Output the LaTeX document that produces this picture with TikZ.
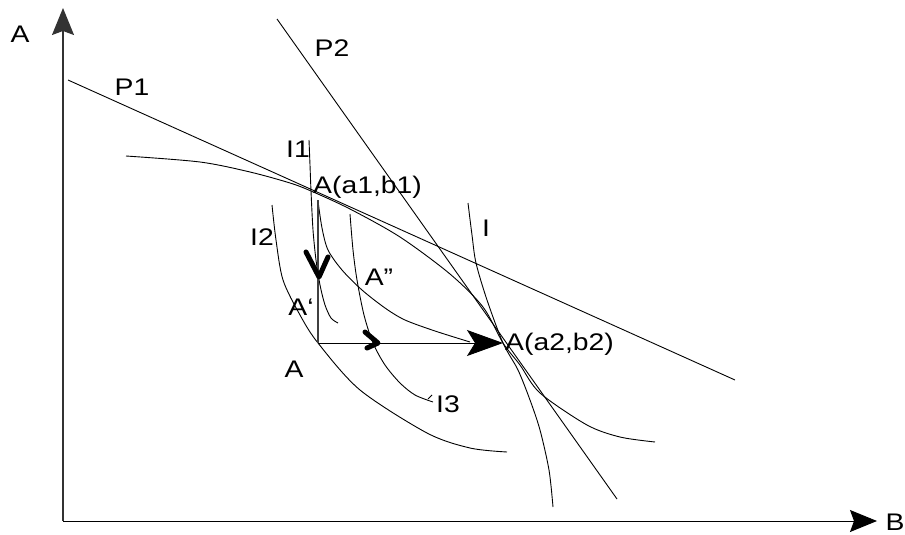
\documentclass[tikz,border=0pt]{standalone}
\usepackage{fontspec}
\setmainfont{Liberation Sans}[FakeStretch=1.18]
\usetikzlibrary{arrows.meta}
\begin{document}
\begin{tikzpicture}[x=1pt,y=-1pt,
  lbl/.style={font=\fontsize{24}{28}\selectfont, inner sep=0pt},
  thin line/.style={line width=0.9pt},
  axis/.style={line width=1.4pt, draw=black!80, -{Stealth[length=27pt,width=22pt,inset=4pt]}},
  stroke mark/.style={line width=5pt, line cap=round, line join=round},
  bigarrow/.style={-{Stealth[length=36pt,width=26pt,inset=8pt]}}]
\useasboundingbox (0,0) rectangle (905,535);
% key points
\coordinate (O) at (63,521);
\coordinate (Ytop) at (63,8);
\coordinate (Xend) at (877,521);
\coordinate (A1) at (311,191);
\coordinate (A2) at (503,343);
\coordinate (Afoot) at (318,343);
\coordinate (Vtop) at (318,200);
\coordinate (P1s) at (68,80);
\coordinate (P1e) at (735,380);
\coordinate (P2s) at (277,19);
\coordinate (P2e) at (617,499);
% axes
\draw[axis] (O) -- (Ytop);
\draw[axis, draw=black, line width=1pt] (O) -- (Xend);
% budget lines
\draw[thin line] (P1s) -- (P1e);
\draw[thin line] (P2s) -- (P2e);
% indifference curve through A1 and A2
\draw[thin line] plot[smooth] coordinates {(126,156) (200,162) (250,172) (290,183) (A1) (350,209) (400,237) (450,274) (483,307) (A2) (520,365) (540,393) (587,425) (620,437) (655,442)};
% curve I
\draw[thin line] plot[smooth] coordinates {(468,203) (472,235) (476,263) (487,300) (A2) (518,370) (530,400) (540,430) (549,470) (553,507)};
% I1
\draw[thin line] plot[smooth] coordinates {(309,140) (310,165) (A1) (313,230) (316,260) (320,285) (325,305) (331,318) (338,323)};
% I2
\draw[thin line] plot[smooth] coordinates {(272,205) (276,240) (283,280) (300,315) (Afoot) (360,390) (427,433) (470,448) (507,452)};
% I3
\draw[thin line] plot[smooth] coordinates {(350,214) (353,250) (357,280) (364,315) (373,343) (385,365) (400,383) (415,395) (433,402)};
\draw[thin line] (428,399) -- (432,395);
% path via A''
\draw[thin line] plot[smooth] coordinates {(318,201) (322,228) (328,250) (342,270) (362,290) (385,308) (405,320) (435,331) (470,342)};
% vertical and horizontal moves
\draw[line width=1.3pt, draw=black!75] (Vtop) -- (Afoot);
\draw[thin line, bigarrow] (Afoot) -- (A2);
% bold direction marks
\draw[stroke mark] (306,252) -- (319,277) -- (328,257);
\draw[stroke mark] (365,332) -- (378,343) -- (367,348);
% labels
\node[lbl] (lA) at (20,34) {A};
\node[lbl] (lB) at (895,522) {B};
\node[lbl] (lP1) at (132,87) {P1};
\node[lbl] (lP2) at (332,48) {P2};
\node[lbl] (lI1) at (298,149) {I1};
\node[lbl] (lI2) at (262,237) {I2};
\node[lbl] (lI) at (486,228) {I};
\node[lbl] (lI3) at (448,404) {I3};
\node[lbl] (lApp) at (379,277) {A”};
\node[lbl] (lAp) at (301,307) {A‘};
\node[lbl] (lAA) at (294,369) {A};
\node[lbl, anchor=base west] (lA1) at (313,193) {A(a1,b1)};
\node[lbl, anchor=base west] (lA2) at (505,350) {A(a2,b2)};
\end{tikzpicture}
\end{document}
